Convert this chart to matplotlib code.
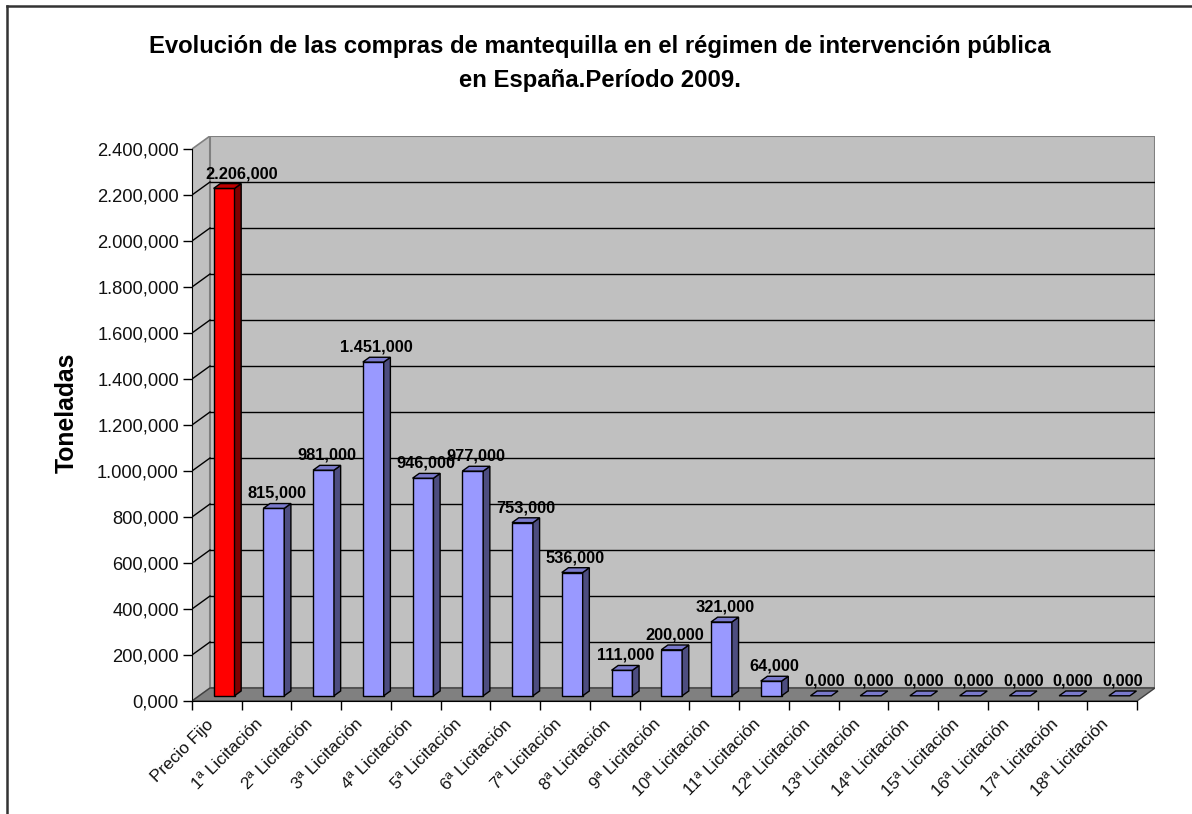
import matplotlib
matplotlib.use("Agg")
import matplotlib.pyplot as plt
from matplotlib.patches import Polygon
from matplotlib.lines import Line2D

plt.rcParams['font.family'] = ['Liberation Sans', 'DejaVu Sans']

# ---------------- data ----------------
categories = ["Precio Fijo", "1ª Licitación", "2ª Licitación", "3ª Licitación",
              "4ª Licitación", "5ª Licitación", "6ª Licitación", "7ª Licitación",
              "8ª Licitación", "9ª Licitación", "10ª Licitación", "11ª Licitación",
              "12ª Licitación", "13ª Licitación", "14ª Licitación", "15ª Licitación",
              "16ª Licitación", "17ª Licitación", "18ª Licitación"]
values = [2206, 815, 981, 1451, 946, 977, 753, 536, 111, 200, 321, 64,
          0, 0, 0, 0, 0, 0, 0]
yticks = [0, 200, 400, 600, 800, 1000, 1200, 1400, 1600, 1800, 2000, 2200, 2400]
title_lines = ["Evolución de las compras de mantequilla en el régimen de intervención pública",
               "en España.Período 2009."]
ylabel = "Toneladas"


def fmt(v):
    s = f"{v:,.3f}"
    return s.replace(",", "X").replace(".", ",").replace("X", ".")


# ---------------- layout (pixels) ----------------
W, H = 1192, 814
X0, X1 = 192, 1137          # front plane x extent
Y0, YT = 701, 149           # front plane y for 0 and 2400
DXp, DYp = 18, 13           # depth offset in pixels
N = len(categories)
YMAX = yticks[-1]

DX = DXp / ((X1 - X0) / N)
DY = DYp / ((Y0 - YT) / YMAX)

fig = plt.figure(figsize=(W / 100, H / 100), dpi=100)
ax = fig.add_axes([X0 / W, 1 - Y0 / H, (X1 + DXp - X0) / W, (Y0 - (YT - DYp)) / H])
ax.set_xlim(0, N + DX)
ax.set_ylim(0, YMAX + DY)
ax.patch.set_visible(False)

wall = '#C0C0C0'
floor_c = '#808080'
edge = '#808080'

# side wall
ax.add_patch(Polygon([(0, 0), (DX, DY), (DX, YMAX + DY), (0, YMAX)], closed=True,
                     facecolor=wall, edgecolor=edge, lw=1.2, zorder=0))
# back wall
ax.add_patch(Polygon([(DX, DY), (N + DX, DY), (N + DX, YMAX + DY), (DX, YMAX + DY)], closed=True,
                     facecolor=wall, edgecolor=edge, lw=1.5, zorder=0))
# floor
ax.add_patch(Polygon([(0, 0), (N, 0), (N + DX, DY), (DX, DY)], closed=True,
                     facecolor=floor_c, edgecolor='#404040', lw=1.0, zorder=0.5))
# gridlines
for v in yticks[1:-1]:
    ax.plot([DX, N + DX], [v + DY, v + DY], color='black', lw=1.0, zorder=0.3)
    ax.plot([0, DX], [v, v + DY], color='black', lw=1.0, zorder=0.3)

# ---------------- bars ----------------
cw = 0.42
f0 = 0.40
fd = 0.37
for i, v in enumerate(values):
    if i == 0:
        front, side, top = '#FF0000', '#800000', '#C00000'
    else:
        front, side, top = '#9999FF', '#4D4D80', '#7A7ACC'
    z = 2 + 2 * i
    xc = i + 0.5 + f0 * DX
    xl = xc - cw / 2
    xr = xc + cw / 2
    yb = f0 * DY
    yt = yb + v
    ddx, ddy = fd * DX, fd * DY
    if v > 0:
        ax.bar(xc, v, bottom=yb, width=cw, color=front, edgecolor='black', lw=1.0, zorder=z)
        ax.add_patch(Polygon([(xr, yb), (xr + ddx, yb + ddy), (xr + ddx, yt + ddy), (xr, yt)],
                             closed=True, facecolor=side, edgecolor='black', lw=1.0, zorder=z))
    ax.add_patch(Polygon([(xl, yt), (xr, yt), (xr + ddx, yt + ddy), (xl + ddx, yt + ddy)],
                         closed=True, facecolor=top, edgecolor='black', lw=1.0, zorder=z))
    dxo = 14 if i == 0 else 0
    ax.annotate(fmt(v), (xc + ddx / 2, yt + ddy / 2), xytext=(dxo, 8),
                textcoords='offset pixels', ha='center', va='baseline',
                fontsize=11.8, fontweight='bold', zorder=z + 1, annotation_clip=False)

# ---------------- axes ----------------
for s in ['top', 'right']:
    ax.spines[s].set_visible(False)
ax.spines['left'].set_bounds(0, YMAX)
ax.spines['bottom'].set_bounds(0, N)
ax.spines['left'].set_zorder(1)
ax.spines['bottom'].set_zorder(1)
ax.set_yticks(yticks)
ax.set_yticklabels([fmt(v) for v in yticks], fontsize=13.2, color='#111111')
ax.tick_params(axis='y', direction='out', length=6.5, width=1, pad=3)
ax.set_xticks(range(N + 1))
ax.set_xticklabels([])
ax.tick_params(axis='x', which='major', direction='out', length=6.5, width=1)
ax.set_xticks([i + 0.38 for i in range(N)], minor=True)
ax.set_xticklabels(categories, minor=True, fontsize=12.3, color='#111111')
ax.tick_params(axis='x', which='minor', length=0, pad=15)
for lab in ax.get_xticklabels(minor=True):
    lab.set_rotation(45)
    lab.set_ha('right')
    lab.set_va('center')
    lab.set_rotation_mode('anchor')

# ---------------- texts ----------------
fig.text(600 / W, 1 - 46 / H, title_lines[0], ha='center', va='center',
         fontsize=17.2, fontweight='bold')
fig.text(600 / W, 1 - 80 / H, title_lines[1], ha='center', va='center',
         fontsize=17.2, fontweight='bold')
fig.text(67 / W, 1 - 413 / H, ylabel, rotation=90, ha='center', va='center',
         fontsize=17.8, fontweight='bold')

# figure border (top & left visible)
fig.add_artist(Line2D([7 / W, 1.0], [1 - 6 / H, 1 - 6 / H], color='#333333', lw=1.8))
fig.add_artist(Line2D([7 / W, 7 / W], [1 - 6 / H, 0.0], color='#333333', lw=1.8))

fig.savefig('out.png', dpi=100)
